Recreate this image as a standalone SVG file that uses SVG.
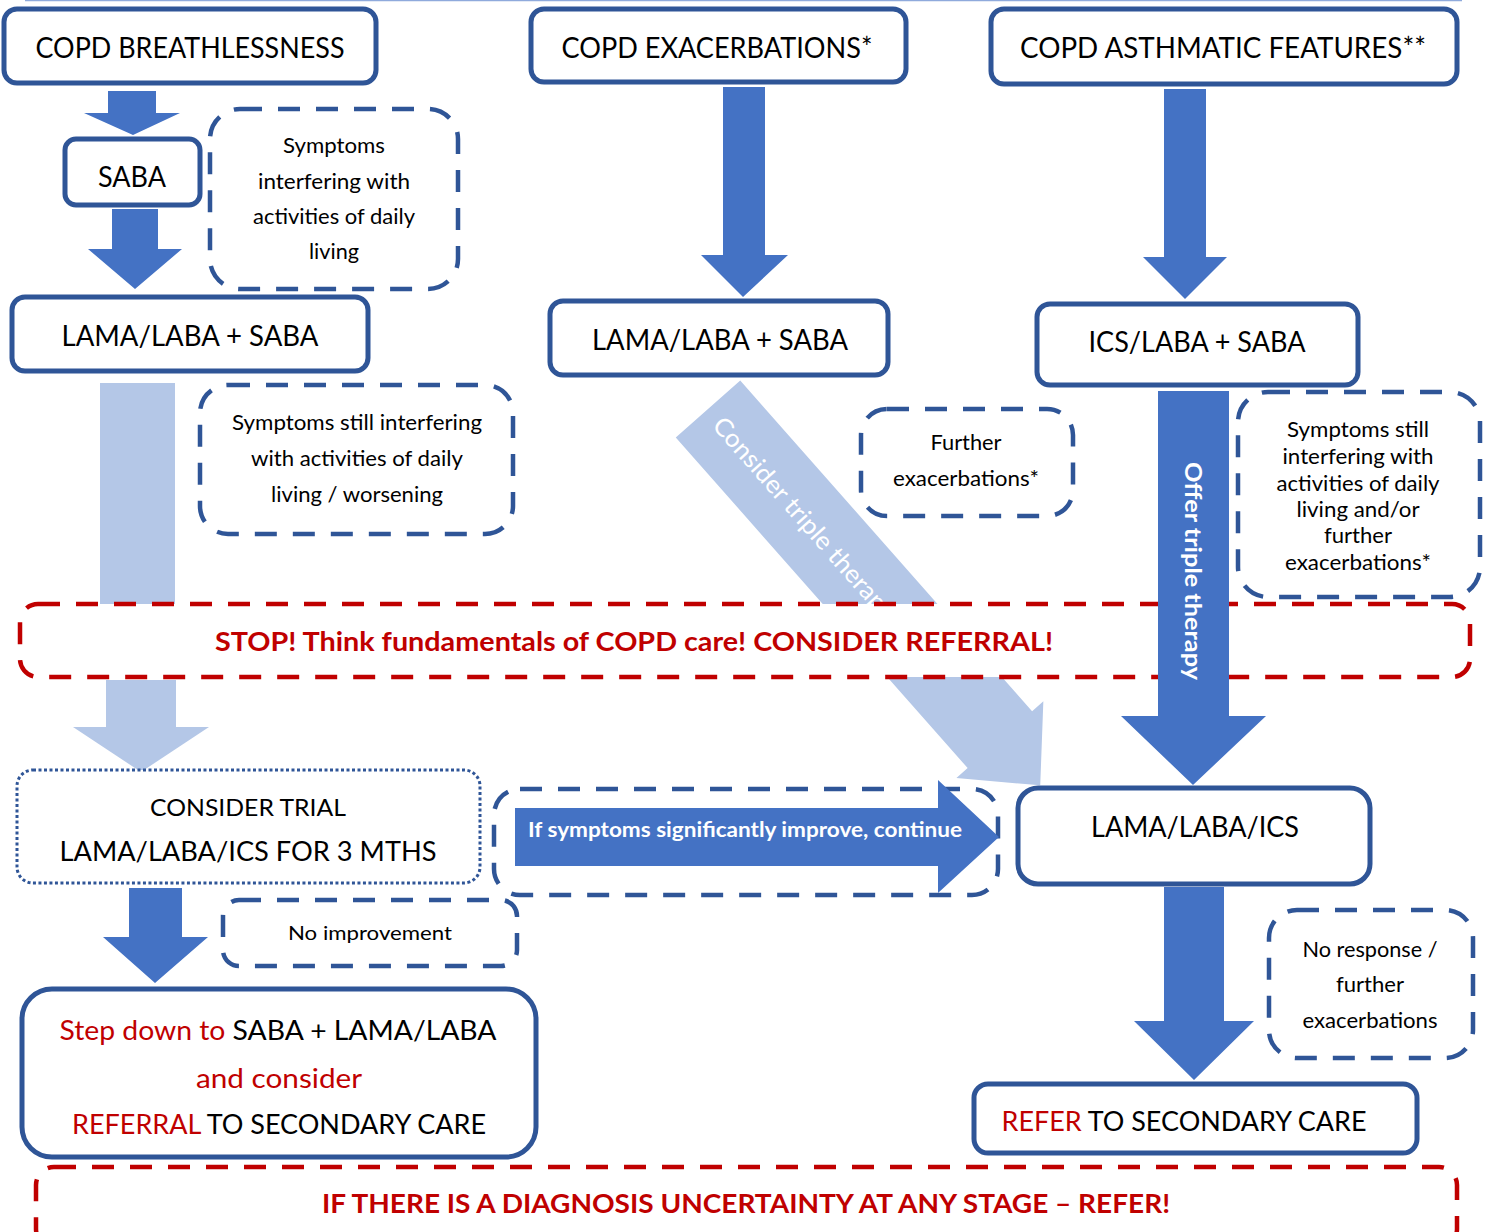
<svg xmlns="http://www.w3.org/2000/svg" width="1489" height="1232" viewBox="0 0 1489 1232">
<style>
.box{fill:#fff;stroke:#2F5597;stroke-width:5}
.dash{fill:#fff;stroke:#2F5597;stroke-width:4.5;stroke-dasharray:22 16}
.red{fill:#fff;stroke:#C00000;stroke-width:4.5;stroke-dasharray:22 16}
.dot{fill:#fff;stroke:#2F5597;stroke-width:3;stroke-dasharray:3 2.5}
.arrow{fill:#4472C4}
.light{fill:#B4C7E7}
text{font-family:Lato,'Open Sans',sans-serif;fill:#000;text-anchor:middle}
.h{font-size:28px}
.s{font-size:21px}
.rb{font-size:27px;font-weight:bold;fill:#C00000}
.w{fill:#fff}
.r{fill:#C00000}
</style>
<rect width="1489" height="1232" fill="#fff"/>
<line x1="25" y1="0.5" x2="1462" y2="0.5" stroke="#8FAADC" stroke-width="1.5"/>

<g id="connectors">
  <polygon class="arrow" points="108,91 156,91 156,113 180,113 133,135 84,113 108,113"/>
  <polygon class="arrow" points="112,209 158,209 158,249 182,249 135,289 88,249 112,249"/>
  <polygon class="arrow" points="723,87 765,87 765,255 788,255 743,297 701,255 723,255"/>
  <polygon class="arrow" points="1164,89 1206,89 1206,257 1227,257 1185,299 1143,257 1164,257"/>
  <g transform="translate(708,409) rotate(48.56)">
    <polygon class="light" points="0,-43 441,-43 441,-58 502,0 441,58 441,43 0,43"/>
    <text x="146" y="9" class="w" style="font-size:25px" textLength="262" lengthAdjust="spacingAndGlyphs" text-anchor="middle">Consider triple therapy</text>
  </g>
  <rect class="light" x="100" y="383" width="75" height="221"/>
</g>

<g id="stop">
  <rect class="red" x="20" y="604" width="1450" height="73" rx="18"/>
  <text x="634" y="651" class="rb" textLength="838" lengthAdjust="spacingAndGlyphs">STOP! Think fundamentals of COPD care! CONSIDER REFERRAL!</text>
</g>

<g id="connectors2">
  <polygon class="light" points="106,680 176,680 176,727 209,727 141,772 73,727 106,727"/>
  <polygon class="arrow" points="1158,391 1229,391 1229,716 1266,716 1193,785 1121,716 1158,716"/>
  <text transform="translate(1193,571) rotate(90)" x="0" y="8" class="w" style="font-size:23px;font-weight:bold" textLength="218" lengthAdjust="spacingAndGlyphs">Offer triple therapy</text>
  <polygon class="arrow" points="129,888 182,888 182,937 208,937 155,983 103,937 129,937"/>
  <polygon class="arrow" points="1164,887 1224,887 1224,1021 1254,1021 1194,1080 1134,1021 1164,1021"/>
</g>

<g id="n-breath">
  <rect class="box" x="4" y="9" width="372" height="74" rx="13"/>
  <text x="190" y="58" class="h" textLength="309" lengthAdjust="spacingAndGlyphs">COPD BREATHLESSNESS</text>
</g>
<g id="n-exac">
  <rect class="box" x="531" y="9" width="375" height="73" rx="13"/>
  <text x="717" y="58" class="h" textLength="311" lengthAdjust="spacingAndGlyphs">COPD EXACERBATIONS*</text>
</g>
<g id="n-asth">
  <rect class="box" x="991" y="9" width="466" height="75" rx="13"/>
  <text x="1223" y="58" class="h" textLength="406" lengthAdjust="spacingAndGlyphs">COPD ASTHMATIC FEATURES**</text>
</g>
<g id="n-saba">
  <rect class="box" x="65" y="139" width="135" height="66" rx="11"/>
  <text x="132" y="187" class="h" textLength="68" lengthAdjust="spacingAndGlyphs">SABA</text>
</g>
<g id="n-note1">
  <rect class="dash" x="210" y="109" width="248" height="180" rx="30"/>
  <text x="334" y="153" class="s" textLength="102" lengthAdjust="spacingAndGlyphs">Symptoms</text>
  <text x="334" y="189" class="s" textLength="152" lengthAdjust="spacingAndGlyphs">interfering with</text>
  <text x="334" y="224" class="s" textLength="162" lengthAdjust="spacingAndGlyphs">activities of daily</text>
  <text x="334" y="259" class="s" textLength="50" lengthAdjust="spacingAndGlyphs">living</text>
</g>
<g id="n-lamalaba1">
  <rect class="box" x="12" y="297" width="356" height="74" rx="13"/>
  <text x="190" y="346" class="h" textLength="257" lengthAdjust="spacingAndGlyphs">LAMA/LABA + SABA</text>
</g>
<g id="n-lamalaba2">
  <rect class="box" x="550" y="301" width="338" height="74" rx="13"/>
  <text x="720" y="350" class="h" textLength="256" lengthAdjust="spacingAndGlyphs">LAMA/LABA + SABA</text>
</g>
<g id="n-ics">
  <rect class="box" x="1037" y="304" width="321" height="81" rx="13"/>
  <text x="1197" y="352" class="h" textLength="217" lengthAdjust="spacingAndGlyphs">ICS/LABA + SABA</text>
</g>
<g id="n-note2">
  <rect class="dash" x="200" y="385" width="313" height="149" rx="28"/>
  <text x="357" y="430" class="s" textLength="250" lengthAdjust="spacingAndGlyphs">Symptoms still interfering</text>
  <text x="357" y="466" class="s" textLength="212" lengthAdjust="spacingAndGlyphs">with activities of daily</text>
  <text x="357" y="502" class="s" textLength="172" lengthAdjust="spacingAndGlyphs">living / worsening</text>
</g>
<g id="n-further">
  <rect class="dash" x="861" y="409" width="212" height="107" rx="26"/>
  <text x="966" y="450" class="s" textLength="71" lengthAdjust="spacingAndGlyphs">Further</text>
  <text x="966" y="486" class="s" textLength="146" lengthAdjust="spacingAndGlyphs">exacerbations*</text>
</g>
<g id="n-note3">
  <rect class="dash" x="1238" y="392" width="242" height="205" rx="30"/>
  <text x="1358" y="437" class="s" textLength="142" lengthAdjust="spacingAndGlyphs">Symptoms still</text>
  <text x="1358" y="464" class="s" textLength="151" lengthAdjust="spacingAndGlyphs">interfering with</text>
  <text x="1358" y="491" class="s" textLength="163" lengthAdjust="spacingAndGlyphs">activities of daily</text>
  <text x="1358" y="517" class="s" textLength="123" lengthAdjust="spacingAndGlyphs">living and/or</text>
  <text x="1358" y="543" class="s" textLength="68" lengthAdjust="spacingAndGlyphs">further</text>
  <text x="1358" y="570" class="s" textLength="146" lengthAdjust="spacingAndGlyphs">exacerbations*</text>
</g>
<g id="n-trial">
  <rect class="dot" x="17" y="770" width="463" height="113" rx="16"/>
  <text x="248" y="816" style="font-size:24px" textLength="196" lengthAdjust="spacingAndGlyphs">CONSIDER TRIAL</text>
  <text x="248" y="861" style="font-size:26px" textLength="377" lengthAdjust="spacingAndGlyphs">LAMA/LABA/ICS FOR 3 MTHS</text>
</g>
<g id="n-continue">
  <rect class="dash" x="494" y="789" width="504" height="106" rx="26"/>
  <polygon class="arrow" points="515,808 938,808 938,780 999,837 938,893 938,866 515,866"/>
  <text x="745" y="837" class="w" style="font-size:21px;font-weight:bold" textLength="434" lengthAdjust="spacingAndGlyphs">If symptoms significantly improve, continue</text>
</g>
<g id="n-triple">
  <rect class="box" x="1018" y="788" width="352" height="96" rx="20"/>
  <text x="1195" y="837" class="h" textLength="208" lengthAdjust="spacingAndGlyphs">LAMA/LABA/ICS</text>
</g>
<g id="n-noimp">
  <rect class="dash" x="223" y="900" width="294" height="66" rx="16"/>
  <text x="370" y="940" style="font-size:20px" textLength="164" lengthAdjust="spacingAndGlyphs">No improvement</text>
</g>
<g id="n-noresp">
  <rect class="dash" x="1269" y="910" width="204" height="148" rx="28"/>
  <text x="1370" y="957" class="s" textLength="135" lengthAdjust="spacingAndGlyphs">No response /</text>
  <text x="1370" y="992" class="s" textLength="68" lengthAdjust="spacingAndGlyphs">further</text>
  <text x="1370" y="1028" class="s" textLength="135" lengthAdjust="spacingAndGlyphs">exacerbations</text>
</g>
<g id="n-stepdown">
  <rect class="box" x="22" y="989" width="514" height="168" rx="30"/>
  <text x="278" y="1040" style="font-size:26px" textLength="437" lengthAdjust="spacingAndGlyphs"><tspan class="r">Step down to </tspan>SABA + LAMA/LABA</text>
  <text x="279" y="1088" class="r" style="font-size:26px" textLength="166" lengthAdjust="spacingAndGlyphs">and consider</text>
  <text x="279" y="1134" style="font-size:26px" textLength="414" lengthAdjust="spacingAndGlyphs"><tspan class="r">REFERRAL</tspan> TO SECONDARY CARE</text>
</g>
<g id="n-refer">
  <rect class="box" x="974" y="1084" width="443" height="69" rx="14"/>
  <text x="1184" y="1131" style="font-size:26px" textLength="365" lengthAdjust="spacingAndGlyphs"><tspan class="r">REFER</tspan> TO SECONDARY CARE</text>
</g>
<g id="n-uncertain">
  <rect class="red" x="36" y="1167" width="1421" height="80" rx="18"/>
  <text x="746" y="1213" class="rb" style="font-size:27px" textLength="848" lengthAdjust="spacingAndGlyphs">IF THERE IS A DIAGNOSIS UNCERTAINTY AT ANY STAGE – REFER!</text>
</g>
</svg>
